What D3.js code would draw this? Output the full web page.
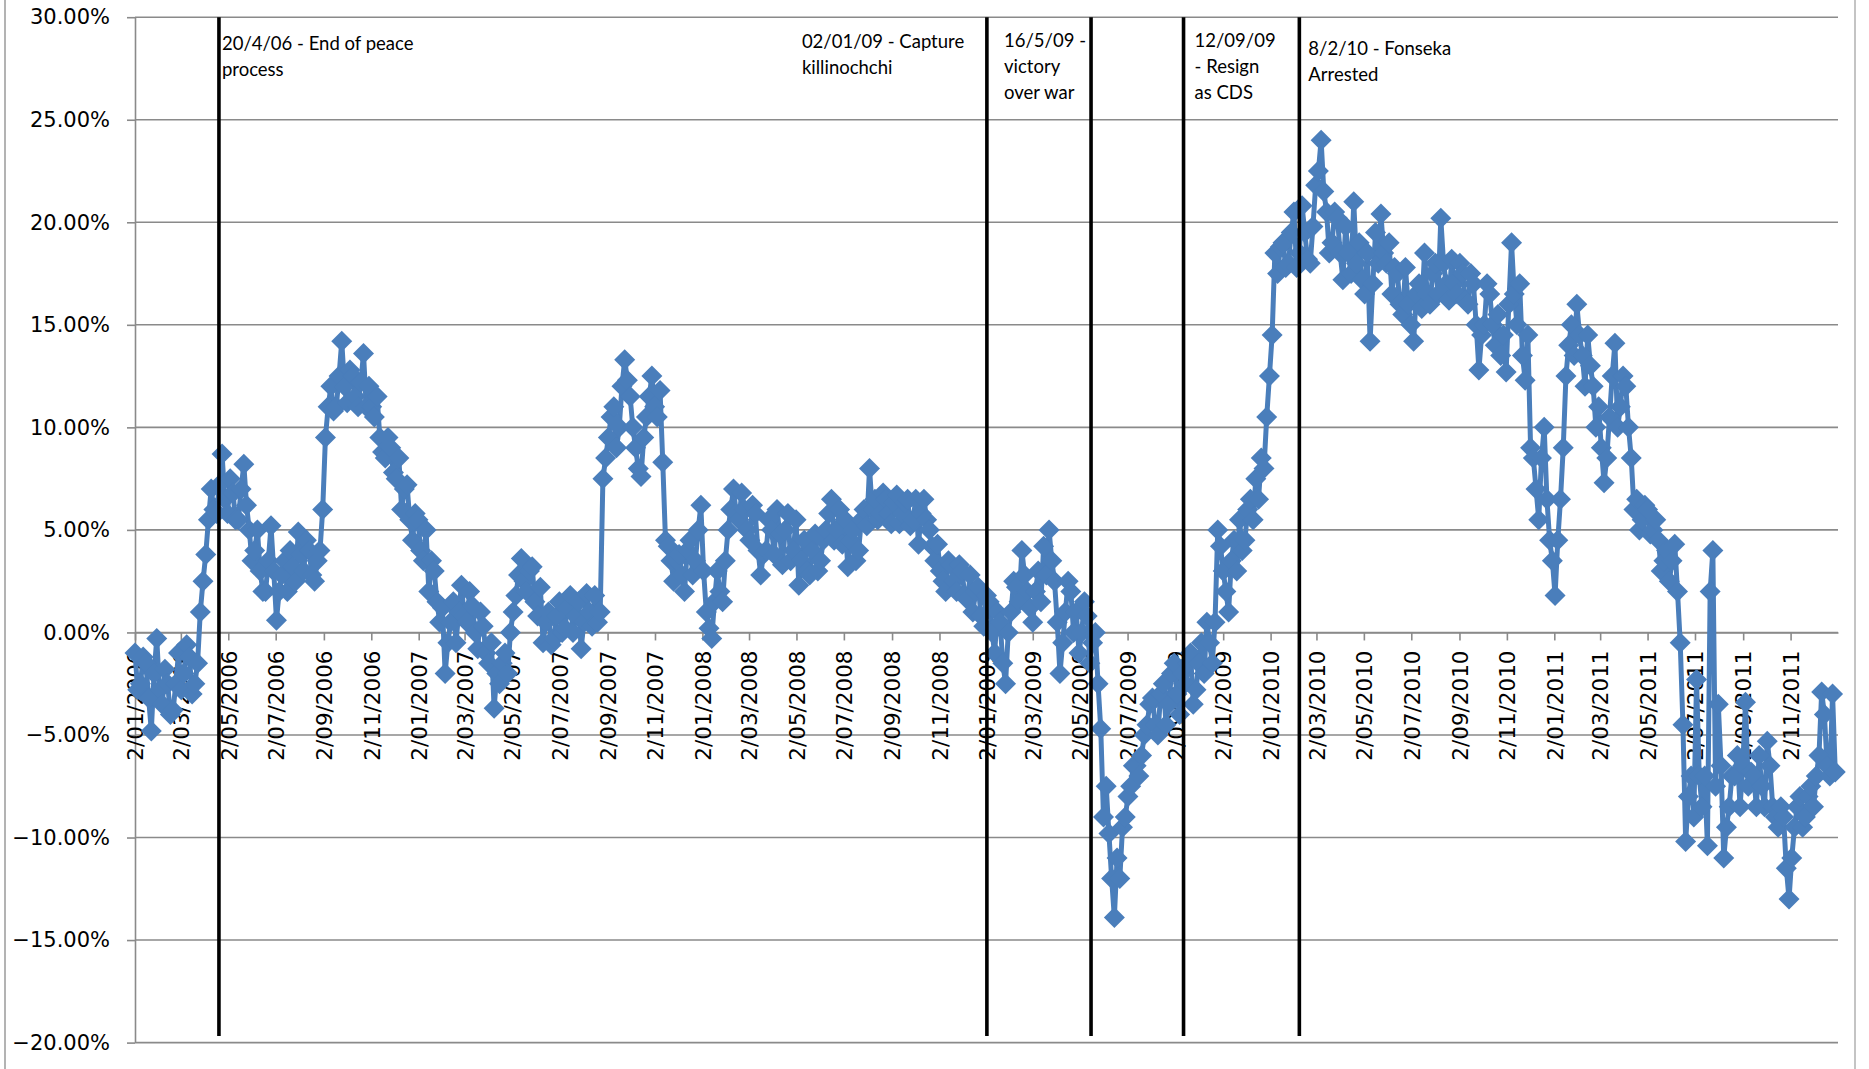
<!DOCTYPE html>
<html>
<head>
<meta charset="utf-8">
<script src="https://cdn.jsdelivr.net/npm/d3@7"></script>
<style>
  html, body { margin: 0; padding: 0; background: #ffffff; }
  svg { display: block; }
</style>
</head>
<body>
<svg id="chart" width="1869" height="1069"></svg>
<script>
// Readings in percent, two per week (every 3.5 days) starting 2 Jan 2006.
const seriesStart = "2006-01-02";
const seriesEnd = "2012-01-02";
const stepHours = 84;

const values2006 = [
  -1.0, -2.8, -2.5, -1.2, -1.5, -3.2, -4.8, -2.0, -0.3, -2.8, -3.5, -1.8, -2.5, -4.0,
  -3.8, -2.5, -1.0, -2.8, -2.0, -0.6, -1.2, -3.0, -2.5, -1.5, 1.0, 2.5, 3.8, 5.5,
  7.0, 6.0, 5.8, 7.2, 8.7, 6.5, 5.8, 7.5, 6.8, 5.5, 5.5, 7.0, 8.2, 6.2, 5.0, 3.5,
  4.0, 5.0, 3.0, 2.0, 2.0, 3.5, 5.2, 3.0, 0.6, 2.0, 2.8, 3.5, 2.0, 4.0, 3.2, 2.5,
  4.9, 3.8, 3.0, 4.5, 4.0, 2.8, 2.5, 3.5, 4.0, 6.0, 9.5, 11.0, 12.0, 10.8, 11.0, 12.5,
  14.2, 12.0, 11.2, 12.8, 12.5, 11.5, 11.0, 12.2, 13.6, 11.0, 12.0, 11.0, 10.5, 11.5,
  9.5, 8.8, 8.5, 9.5, 9.0, 7.8, 7.5, 8.5, 6.0, 7.0, 7.2, 5.5, 4.5, 5.8];

const values2007 = [
  5.5, 4.0, 3.5, 5.0, 2.0, 3.5, 3.0, 1.5, 0.5, 1.2, -2.0, -0.5, 0.5, 1.5,
  -0.5, 1.0, 2.3, 0.8, 0.5, 2.0, 1.3, 0.0, -0.8, 1.0, 0.3, -1.0, -1.5, -0.5,
  -3.7, -2.0, -2.5, -1.5, -1.0, -2.0, 0.0, 1.0, 1.8, 2.8, 3.6, 2.5, 2.0, 3.0,
  3.2, 1.5, 0.8, 2.2, -0.5, 0.5, 1.0, -0.6, -0.3, 0.8, 1.5, 0.0, 0.2, 1.2,
  1.8, 0.0, 0.8, 1.5, -0.8, 0.5, 1.9, 1.0, 0.3, 1.8, 0.5, 1.0, 7.5, 8.5,
  9.5, 10.5, 11.0, 9.0, 10.0, 12.0, 13.3, 12.3, 11.5, 10.0, 9.0, 8.0, 7.6, 9.5,
  10.5, 11.5, 12.5, 11.0, 10.5, 11.8, 8.3, 4.5, 4.2, 3.5, 2.5, 3.5, 3.8, 2.8,
  2.0, 4.0, 4.5, 2.8, 3.5, 5.0];

const values2008 = [
  6.2, 3.0, 1.0, 0.2, -0.3, 1.5, 3.0, 2.0, 1.5, 3.5, 5.0, 6.0, 7.0, 5.8,
  5.5, 6.8, 6.0, 5.0, 4.5, 6.2, 5.8, 4.0, 2.8, 3.8, 4.0, 5.5, 5.0, 3.8,
  6.0, 4.8, 3.3, 5.0, 5.8, 3.5, 4.0, 5.5, 2.3, 3.5, 4.5, 3.0, 2.8, 4.0,
  4.8, 3.0, 3.5, 4.5, 5.0, 5.8, 6.5, 4.5, 5.0, 6.0, 4.3, 5.5, 3.2, 4.5,
  5.0, 3.5, 4.0, 5.5, 6.0, 5.2, 8.0, 6.0, 6.5, 5.5, 5.8, 6.8, 6.5, 5.8,
  5.3, 6.3, 6.7, 5.3, 5.8, 6.3, 6.5, 5.2, 5.5, 6.5, 4.3, 5.8, 6.5, 5.5,
  5.0, 4.2, 3.5, 4.3, 3.0, 2.5, 2.0, 3.5, 3.3, 2.5, 2.0, 3.3, 3.0, 1.8,
  1.6, 2.8, 1.0, 2.0, 2.2, 0.8, 0.3, 1.8];

const values2009 = [
  1.5, 0.0, -1.0, 1.0, 0.5, -1.5, -2.5, 0.0, 1.0, 2.5, 2.2, 1.5, 4.0, 2.8,
  2.0, 1.2, 0.5, 2.0, 3.0, 1.5, 4.2, 2.8, 5.0, 3.5, 2.5, 0.5, -2.0, -0.5,
  1.0, 2.5, 2.0, 0.0, 1.0, -1.0, 0.0, 1.5, 0.8, -1.5, -0.5, 0.0, -2.5, -4.7,
  -9.0, -7.5, -9.8, -12.0, -13.9, -11.0, -12.0, -9.5, -9.0, -8.0, -7.5, -6.5, -6.5, -7.0,
  -6.0, -5.0, -4.5, -3.5, -3.2, -4.5, -5.0, -3.0, -2.5, -4.5, -3.5, -2.0, -1.5, -3.0,
  -4.0, -2.0, -2.5, -1.5, -1.0, -3.5, -2.8, -1.5, -0.5, -2.0, 0.5, -0.5, -1.5, 0.5,
  5.0, 4.2, 3.0, 2.0, 1.0, 3.5, 4.5, 3.0, 5.5, 4.0, 4.5, 6.0, 6.5, 5.5,
  7.5, 6.5, 8.5, 8.0, 10.5, 12.5];

const values2010 = [
  14.5, 18.5, 17.5, 18.8, 19.0, 17.8, 18.0, 19.5, 20.5, 17.8, 18.5, 20.8, 19.5, 18.2,
  18.0, 19.8, 21.8, 22.5, 24.0, 21.5, 20.5, 18.5, 19.0, 20.5, 20.2, 18.5, 17.2, 19.8,
  18.5, 17.5, 21.0, 18.0, 19.0, 17.2, 16.5, 18.5, 14.2, 17.0, 19.5, 18.0, 20.4, 18.5,
  18.0, 19.0, 16.5, 17.8, 17.5, 16.0, 15.5, 17.8, 16.0, 15.0, 14.2, 16.5, 17.0, 15.8,
  18.5, 16.5, 16.0, 17.5, 18.0, 16.5, 20.2, 18.0, 17.0, 16.2, 18.2, 17.0, 16.5, 18.0,
  17.5, 16.2, 16.0, 17.5, 17.0, 15.0, 12.8, 14.5, 15.0, 17.0, 16.5, 15.0, 14.0, 15.5,
  13.5, 14.5, 12.7, 16.0, 19.0, 16.5, 15.0, 17.0, 13.5, 12.3, 14.5, 9.0, 8.5, 7.0,
  5.5, 8.5, 10.0, 6.5, 4.5, 3.5];

const values2011 = [
  1.8, 4.5, 6.5, 9.0, 12.5, 14.0, 15.0, 13.5, 16.0, 14.5, 13.5, 12.0, 14.5, 13.0,
  12.0, 10.0, 11.0, 9.0, 7.3, 8.5, 10.5, 12.5, 14.1, 10.0, 11.0, 12.5, 12.0, 10.0,
  8.5, 6.0, 6.5, 5.0, 5.5, 6.2, 6.0, 4.8, 5.0, 5.5, 4.5, 3.0, 3.5, 4.0,
  2.5, 3.5, 4.3, 2.0, -0.5, -4.5, -10.2, -8.0, -7.0, -9.0, -2.3, -7.0, -8.5, -7.0,
  -10.4, 2.0, 4.0, -7.5, -3.5, -6.5, -11.0, -9.5, -8.5, -7.0, -7.0, -6.0, -8.5, -6.5,
  -3.4, -7.5, -6.8, -7.0, -8.5, -6.0, -7.5, -8.5, -5.3, -6.5, -8.5, -9.0, -9.5, -8.5,
  -9.0, -11.5, -13.0, -11.0, -9.5, -8.5, -8.0, -9.5, -9.0, -8.0, -7.5, -8.5, -7.0, -6.0,
  -2.9, -4.0, -6.5, -7.0, -3.0, -6.8];

const yTicks = [-20, -15, -10, -5, 0, 5, 10, 15, 20, 25, 30];

const xTickLabels = [
  "2/01/2006", "2/03/2006", "2/05/2006", "2/07/2006", "2/09/2006", "2/11/2006",
  "2/01/2007", "2/03/2007", "2/05/2007", "2/07/2007", "2/09/2007", "2/11/2007",
  "2/01/2008", "2/03/2008", "2/05/2008", "2/07/2008", "2/09/2008", "2/11/2008",
  "2/01/2009", "2/03/2009", "2/05/2009", "2/07/2009", "2/09/2009", "2/11/2009",
  "2/01/2010", "2/03/2010", "2/05/2010", "2/07/2010", "2/09/2010", "2/11/2010",
  "2/01/2011", "2/03/2011", "2/05/2011", "2/07/2011", "2/09/2011", "2/11/2011"];

const eventDates = ["2006-04-20", "2009-01-02", "2009-05-16", "2009-09-12", "2010-02-08"];
const eventLabels = [
  ["20/4/06 - End of peace", "process"],
  ["02/01/09 - Capture", "killinochchi"],
  ["16/5/09 -", "victory", "over war"],
  ["12/09/09", "- Resign", "as CDS"],
  ["8/2/10 - Fonseka", "Arrested"]];

// ---- layout ----
const plot = { left: 135, right: 1838, top: 17.2, bottom: 1042.6 };
const labelDx = [3, -185, -87, 11, 9];          // annotation offset from its event line
const labelBaseline = [50, 48, 47, 47, 55];     // first text baseline of each annotation
const lineStep = 26;
const blue = "#4a7ebb";
const grey = "#8a8a8a";

const parseIso = d3.utcParse("%Y-%m-%d");
const parseTick = d3.utcParse("%d/%m/%Y");

const x = d3.scaleUtc()
  .domain([parseIso(seriesStart), parseIso(seriesEnd)])
  .range([plot.left, plot.right]);
const y = d3.scaleLinear().domain([-20, 30]).range([plot.bottom, plot.top]);

const allValues = [].concat(values2006, values2007, values2008, values2009, values2010, values2011);
const start = parseIso(seriesStart);
const series = allValues.map((v, i) => ({ date: d3.utcHour.offset(start, stepHours * i), value: v }));

const svg = d3.select("#chart");

// outer frame edges
svg.append("line").attr("x1", 5).attr("x2", 5).attr("y1", 0).attr("y2", 1069)
  .attr("stroke", "#9a9a9a").attr("stroke-width", 1.5);
svg.append("line").attr("x1", 1855).attr("x2", 1855).attr("y1", 0).attr("y2", 1069)
  .attr("stroke", "#b0b0b0").attr("stroke-width", 1.5);

// horizontal gridlines
svg.append("g").selectAll("line").data(yTicks).join("line")
  .attr("x1", plot.left).attr("x2", plot.right)
  .attr("y1", d => y(d)).attr("y2", d => y(d))
  .attr("stroke", grey).attr("stroke-width", 1.6);

// y axis
const yAxis = svg.append("g").attr("transform", `translate(${plot.left},0)`)
  .call(d3.axisLeft(y).tickValues(yTicks).tickSize(8).tickSizeOuter(0).tickPadding(17)
    .tickFormat(d => d3.format(".2f")(d) + "%"));
yAxis.select(".domain").attr("stroke", grey).attr("stroke-width", 1.6);
yAxis.selectAll(".tick line").attr("stroke", grey).attr("stroke-width", 1.6);
yAxis.selectAll(".tick text")
  .attr("font-family", "'DejaVu Sans', sans-serif").attr("font-size", 21).attr("fill", "#000");

// x axis on the zero line
const xTickDates = xTickLabels.map(parseTick);
const xAxis = svg.append("g").attr("transform", `translate(0,${y(0)})`)
  .call(d3.axisBottom(x).tickValues(xTickDates).tickSize(8).tickSizeOuter(0)
    .tickFormat(d3.utcFormat("%-d/%m/%Y")));
xAxis.select(".domain").attr("stroke", grey).attr("stroke-width", 1.6);
xAxis.selectAll(".tick line").attr("stroke", grey).attr("stroke-width", 1.6);
xAxis.selectAll(".tick text")
  .attr("font-family", "'DejaVu Sans', sans-serif").attr("font-size", 21.5).attr("fill", "#000")
  .attr("transform", "rotate(-90)")
  .attr("text-anchor", "end")
  .attr("x", -18).attr("y", 0).attr("dy", "0.36em");

// series line
const line = d3.line().x(d => x(d.date)).y(d => y(d.value));
svg.append("path").datum(series)
  .attr("d", line).attr("fill", "none")
  .attr("stroke", blue).attr("stroke-width", 5).attr("stroke-linejoin", "round");

// diamond markers
const r = 10.5;
svg.append("g").selectAll("path").data(series).join("path")
  .attr("transform", d => `translate(${x(d.date)},${y(d.value)})`)
  .attr("d", `M0,${-r}L${r},0L0,${r}L${-r},0Z`)
  .attr("fill", blue);

// event lines and notes
const events = eventDates.map((d, i) => ({ date: parseIso(d), lines: eventLabels[i], i }));
const eg = svg.append("g");
eg.selectAll("line").data(events).join("line")
  .attr("x1", d => x(d.date)).attr("x2", d => x(d.date))
  .attr("y1", plot.top).attr("y2", 1036)
  .attr("stroke", "#000").attr("stroke-width", 3.6);

const notes = eg.selectAll("text").data(events).join("text")
  .attr("font-family", "Lato, 'Open Sans', sans-serif")
  .attr("font-size", 18.5)
  .attr("fill", "#000")
  .attr("x", d => x(d.date) + labelDx[d.i])
  .attr("y", d => labelBaseline[d.i]);
notes.selectAll("tspan").data(d => d.lines.map(t => ({ t, x: x(d.date) + labelDx[d.i] })))
  .join("tspan")
  .attr("x", d => d.x)
  .attr("dy", (d, j) => j === 0 ? 0 : lineStep)
  .text(d => d.t);
</script>
</body>
</html>
